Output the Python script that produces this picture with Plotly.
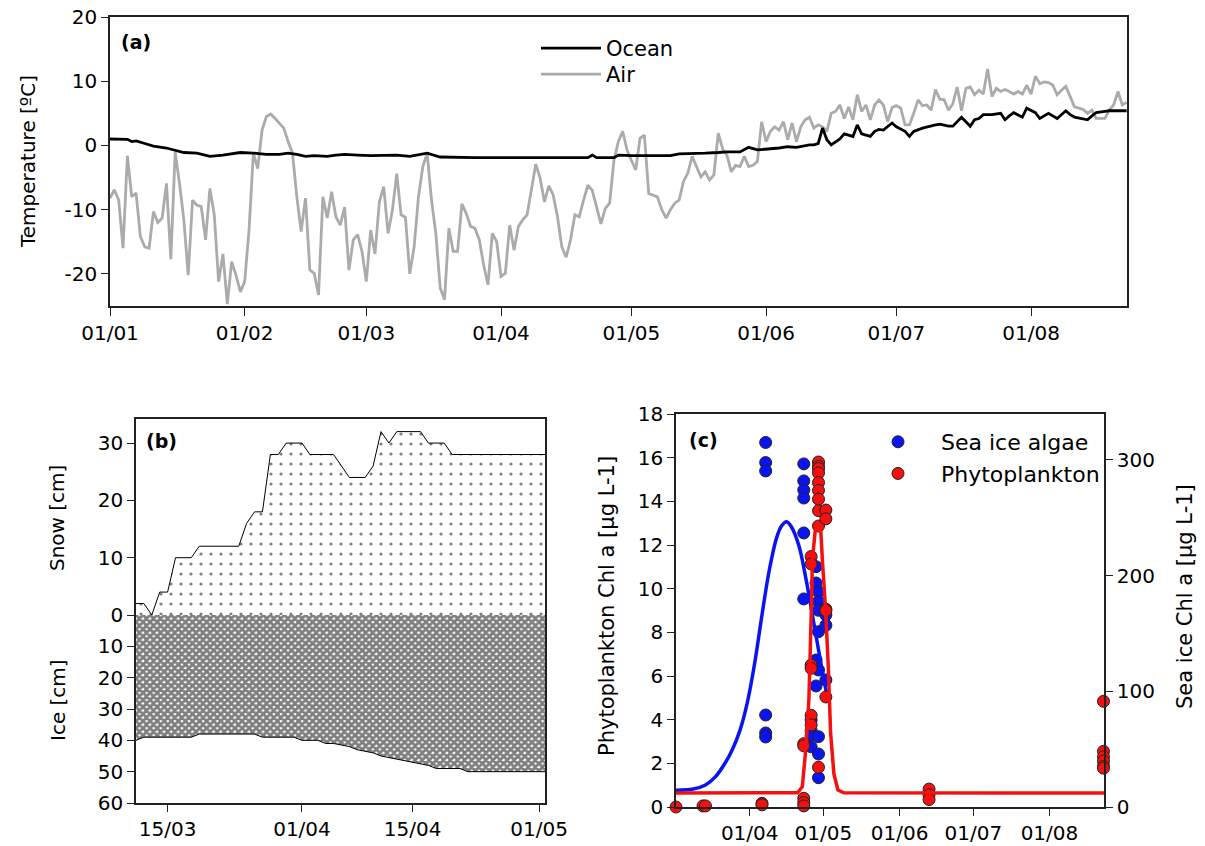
import pandas as pd
import plotly.graph_objects as go

FONT = "DejaVu Sans"
W, H = 1205, 846

# ---------------- (a) temperature ----------------
air_start = "2015-01-01"
air_temp = [
    -8.2, -6.9, -8.5, -16, -1.6, -8, -7.4, -14.2, -15.8, -16,
    -10.3, -12, -11.3, -5.9, -17.7, -1.0, -5.9, -11.6, -20.2, -8.5,
    -9.3, -9.5, -14.7, -6.7, -10.8, -21.2, -16.9, -24.7, -18.1, -20.2,
    -22.8, -21.2, -13.2, -1.2, -3.6, 2.4, 4.5, 4.9, 4.2, 3.5,
    2.7, 0.6, -1.2, -8, -13.4, -8.2, -19.4, -19.9, -23.3, -8,
    -11.3, -7.2, -11.1, -12.4, -9.6, -19.4, -14.7, -13.9, -16.5, -21.2,
    -13.2, -16.9, -8.8, -6.4, -13.7, -10.1, -4.4, -10.8, -11.2, -20,
    -15.8, -8, -3.3, -1.2, -8.5, -13.7, -22.2, -24, -12.9, -16.5,
    -16.5, -9.1, -10.6, -12.6, -12.9, -14.7, -18.6, -21.7, -13.7, -15,
    -20.4, -19.9, -12.4, -16.3, -12.6, -11.6, -10.8, -6.9, -2.9, -5.1,
    -8.8, -6.3, -7.7, -11.1, -15.8, -17.4, -14.7, -10.8, -11.1, -8.5,
    -6.2, -7.0, -9.5, -12.2, -9.8, -9.0, -2.3, 0.6, 2.2, -0.7,
    -2.3, -3.8, 1.1, 1.6, -7.5, -7.7, -8, -10, -11.3, -10,
    -9, -8.5, -5.6, -4.3, -1.7, -3.3, -4.9, -4.1, -5.4, -4.6,
    1.9, -0.5, -1.5, -4.1, -3.1, -3.3, -1.7, -3.3, -3.1, -2.5,
    3.7, 0.6, 2.2, 2.9, 2.4, 3.7, 0.9, 3.5, 0.6, 2.9,
    4.0, 4.4, 2.7, 3.2, 2.9, 2.2, 5.0, 5.3, 6.3, 4.2,
    6.0, 4.0, 7.9, 5.3, 6.3, 4.0, 6.3, 7.1, 6.3, 3.7,
    5.9, 6.2, 5.8, 3.2, 3.2, 5.0, 7.1, 6.2, 6.3, 5.5,
    8.7, 7.2, 7.1, 5.5, 6.5, 9.1, 5.4, 8.9, 9.1, 7.9,
    8.6, 8.0, 11.9, 7.6, 8.9, 8.4, 8.7, 8.4, 8.0, 8.4,
    8.0, 9.4, 8.0, 10.8, 9.6, 9.9, 9.8, 9.4, 7.9, 8.6,
    9.2, 7.6, 6.0, 5.8, 5.6, 5.0, 5.5, 4.2, 4.2, 4.2,
    5.5, 6.3, 8.4, 6.3, 6.7,
]
ocean_doy = [
    0, 2, 4, 5, 6, 8, 10, 13, 15, 17, 20, 22, 23, 26, 28, 30, 33, 36, 39, 41,
    43, 45, 47, 50, 52, 54, 57, 60, 66, 69, 73, 76, 84, 97, 110, 111, 112, 116, 117, 120,
    123, 126, 129, 131, 134, 137, 140, 142, 145, 147, 149, 151, 154, 156, 158, 161, 162, 163, 164, 165,
    166, 168, 169, 171, 172, 173, 175, 176, 177, 178, 180, 181, 183, 184, 185, 187, 188, 190, 191, 193,
    194, 196, 197, 198, 199, 200, 201, 203, 205, 206, 207, 208, 210, 211, 213, 214, 216, 217, 218, 220,
    221, 222, 224, 225, 226, 227, 229, 230, 234,
]
ocean_temp = [
    1.0, 1.0, 0.95, 0.6, 0.7, 0.3, -0.1, -0.4, -0.7, -1.1, -1.2, -1.5, -1.7, -1.5, -1.3, -1.1, -1.2, -1.4, -1.4, -1.2,
    -1.4, -1.7, -1.6, -1.7, -1.5, -1.4, -1.5, -1.6, -1.5, -1.7, -1.2, -1.8, -1.9, -1.9, -1.9, -1.5, -1.9, -1.9, -1.5, -1.6,
    -1.6, -1.7, -1.6, -1.3, -1.3, -1.2, -1.1, -1.0, -1.0, -0.3, -0.7, -0.6, -0.4, -0.2, -0.3, 0.1, 0.1, 0.3, 2.7, 0.9,
    0.1, 1.0, 1.8, 1.4, 3.2, 1.8, 1.4, 2.2, 2.5, 2.4, 3.5, 2.9, 2.2, 1.4, 2.2, 2.7, 2.9, 3.2, 3.3, 3.0,
    3.0, 4.4, 3.7, 3.0, 4.0, 4.2, 4.8, 4.8, 5.0, 4.0, 4.6, 5.1, 4.4, 5.8, 5.1, 4.2, 5.0, 4.6, 4.2, 5.4,
    4.8, 4.4, 4.2, 4.0, 4.6, 5.1, 5.3, 5.4, 5.4,
]
a_tick_dates = ["2015-01-01", "2015-02-01", "2015-03-01", "2015-04-01",
                "2015-05-01", "2015-06-01", "2015-07-01", "2015-08-01"]
a_tick_text = ["01/01", "01/02", "01/03", "01/04", "01/05", "01/06", "01/07", "01/08"]
a_ytick_vals = [-20, -10, 0, 10, 20]
a_ytick_text = ["-20", "-10", "0", "10", "20"]

# ---------------- (b) snow / ice ----------------
snow_dates = ["2015-03-11", "2015-03-12", "2015-03-13", "2015-03-14", "2015-03-15", "2015-03-16",
              "2015-03-18", "2015-03-19", "2015-03-24", "2015-03-25", "2015-03-26", "2015-03-27",
              "2015-03-28", "2015-03-29", "2015-03-30", "2015-04-01", "2015-04-02", "2015-04-05",
              "2015-04-07", "2015-04-09", "2015-04-10", "2015-04-11", "2015-04-12", "2015-04-13",
              "2015-04-16", "2015-04-17", "2015-04-19", "2015-04-20", "2015-05-02"]
snow_cm = [2, 2, 0, 4, 4, 10, 10, 12, 12, 16, 18, 18, 28, 28, 30, 30, 28, 28,
           24, 24, 26, 32, 30, 32, 32, 30, 30, 28, 28]
ice_dates = ["2015-03-11", "2015-03-12", "2015-03-18", "2015-03-19", "2015-03-26", "2015-03-27",
             "2015-03-31", "2015-04-01", "2015-04-03", "2015-04-04", "2015-04-05", "2015-04-07",
             "2015-04-08", "2015-04-10", "2015-04-11", "2015-04-13", "2015-04-15", "2015-04-17",
             "2015-04-18", "2015-04-21", "2015-04-22", "2015-05-02"]
ice_cm = [40, 39, 39, 38, 38, 39, 39, 40, 40, 41, 41, 42, 43, 44, 45, 46, 47, 48, 49, 49, 50, 50]
b_tick_dates = ["2015-03-15", "2015-04-01", "2015-04-15", "2015-05-01"]
b_tick_text = ["15/03", "01/04", "15/04", "01/05"]

# ---------------- (c) chlorophyll ----------------
algae_dates = (["2015-04-07 12:00"] * 6 + ["2015-04-23"] * 6 + ["2015-04-26"] * 4 +
               ["2015-04-28"] * 4 + ["2015-04-29"] * 8 + ["2015-05-02"] * 3)
algae_chl = [315, 297.6, 290.4, 79.5, 64, 60.5,
             296.5, 281.8, 274, 267, 236.8, 179.8,
             75.2, 66, 62.2, 52.1,
             207.7, 193.6, 127, 104.6,
             186, 177.4, 170, 151.5, 118.4, 60.8, 45.8, 25.3,
             166, 157, 109.8]
phyto_dates = (["2015-03-02", "2015-03-13", "2015-03-14"] + ["2015-04-06"] * 2 +
               ["2015-04-23"] * 5 + ["2015-04-26"] * 6 + ["2015-04-29"] * 10 +
               ["2015-05-02"] * 5 + ["2015-06-13"] * 3 + ["2015-08-23"] * 6)
phyto_chl = [0.0, 0.05, 0.05, 0.17, 0.1,
             2.9, 2.8, 0.4, 0.2, 0.05,
             11.47, 11.13, 6.5, 6.35, 4.2, 3.76,
             15.8, 15.6, 15.5, 15.3, 14.86, 14.5, 14.1, 13.57, 12.87, 1.82,
             13.6, 13.2, 9.06, 9.0, 5.04,
             0.82, 0.56, 0.34,
             4.84, 2.55, 2.3, 2.1, 1.86, 1.78]
algae_fit_dates = ["2015-03-02", "2015-03-09", "2015-03-14", "2015-03-18", "2015-03-22",
                   "2015-03-25", "2015-03-28", "2015-03-31", "2015-04-03", "2015-04-06",
                   "2015-04-09", "2015-04-12", "2015-04-14", "2015-04-16", "2015-04-18",
                   "2015-04-21", "2015-04-24", "2015-04-27", "2015-04-30", "2015-05-02 12:00"]
algae_fit = [14.4, 15.5, 19, 26, 38, 50, 66, 90, 124, 166, 205, 233, 243, 246.5, 242,
             226, 196, 160, 124, 96]
phyto_fit_dates = ["2015-03-02 00:00", "2015-04-20 12:00", "2015-04-22 10:00", "2015-04-23 19:00",
                   "2015-04-25 02:00", "2015-04-25 19:00", "2015-04-26 05:00", "2015-04-26 12:00",
                   "2015-04-27 19:00", "2015-04-28 19:00", "2015-04-29 22:00", "2015-04-30 14:00",
                   "2015-05-01 22:00", "2015-05-03 00:00", "2015-05-03 22:00", "2015-05-05 07:00",
                   "2015-05-06 22:00", "2015-05-09 07:00", "2015-08-23 05:00"]
phyto_fit = [0.64, 0.65, 0.93, 2.6, 4.9, 7.2, 9.5, 11.3, 12.8, 13.07, 12.7, 11.3, 9.0, 6.4,
             3.4, 1.5, 0.78, 0.65, 0.64]
c_tick_dates = ["2015-04-01", "2015-05-01", "2015-06-01", "2015-07-01", "2015-08-01"]
c_tick_text = ["01/04", "01/05", "01/06", "01/07", "01/08"]


def px(x):
    return x / W


def py(y):
    return 1 - y / H


air_dates = pd.date_range(air_start, periods=len(air_temp), freq="D")
ocean_dates = pd.Timestamp(air_start) + pd.to_timedelta(ocean_doy, unit="D")

fig = go.Figure()

# (a)
fig.add_trace(go.Scatter(x=air_dates, y=air_temp, mode="lines", name="Air",
                         line=dict(color="#ababab", width=2.8), xaxis="x", yaxis="y",
                         legend="legend3"))
fig.add_trace(go.Scatter(x=ocean_dates, y=ocean_temp, mode="lines", name="Ocean",
                         line=dict(color="black", width=2.8), xaxis="x", yaxis="y",
                         legend="legend"))

# (b)
fig.add_trace(go.Scatter(x=snow_dates, y=snow_cm, mode="lines", fill="tozeroy",
                         line=dict(color="black", width=1), fillcolor="white",
                         fillpattern=dict(shape=".", fgcolor="black", bgcolor="white",
                                          size=10, solidity=0.08),
                         xaxis="x2", yaxis="y2", showlegend=False, hoverinfo="skip"))
fig.add_trace(go.Scatter(x=ice_dates, y=ice_cm, mode="lines", fill="tozeroy",
                         line=dict(color="black", width=1), fillcolor="white",
                         fillpattern=dict(shape="x", fgcolor="black", bgcolor="white",
                                          size=5, solidity=0.8),
                         xaxis="x3", yaxis="y3", showlegend=False, hoverinfo="skip"))

# (c) — y4 = sea ice (right), y5 = phytoplankton (left, overlay)
fig.add_trace(go.Scatter(x=algae_dates, y=algae_chl, mode="markers", name="Sea ice algae",
                         marker=dict(color="#0a14f0", size=12, line=dict(color="#222", width=1)),
                         xaxis="x4", yaxis="y4", legend="legend2", cliponaxis=False))
fig.add_trace(go.Scatter(x=algae_fit_dates, y=algae_fit, mode="lines", line_shape="spline",
                         line=dict(color="#0a14f0", width=3.5), xaxis="x4", yaxis="y4",
                         showlegend=False))
fig.add_trace(go.Scatter(x=phyto_dates, y=phyto_chl, mode="markers", name="Phytoplankton",
                         marker=dict(color="#f51010", size=12, line=dict(color="#222", width=1)),
                         xaxis="x4", yaxis="y5", legend="legend2", cliponaxis=False))
fig.add_trace(go.Scatter(x=phyto_fit_dates, y=phyto_fit, mode="lines",
                         line=dict(color="#f51010", width=3.5), xaxis="x4", yaxis="y5",
                         showlegend=False))

tickfont = dict(family=FONT, size=20, color="black")
axcommon = dict(showgrid=False, zeroline=False, showline=True, linecolor="#222", linewidth=1.5,
                ticks="outside", ticklen=7, tickwidth=1.2, tickcolor="#222", tickfont=tickfont,
                automargin=False)
legfont = dict(family=FONT, size=21, color="black")

fig.update_layout(
    width=W, height=H, autosize=False,
    margin=dict(l=0, r=0, t=0, b=0, autoexpand=False),
    paper_bgcolor="white", plot_bgcolor="white",
    font=dict(family=FONT, size=20, color="black"),
    xaxis=dict(axcommon, domain=[px(110), px(1127)], anchor="y", type="date",
               range=["2015-01-01", "2015-08-23 02:00"], mirror=True,
               tickvals=a_tick_dates, ticktext=a_tick_text, ticklen=8),
    yaxis=dict(axcommon, domain=[py(306), py(17)], anchor="x", range=[-25, 20],
               tickvals=a_ytick_vals, ticktext=a_ytick_text, mirror=True),
    xaxis2=dict(axcommon, domain=[px(136), px(545)], anchor="y2", type="date",
                range=["2015-03-11", "2015-05-01 18:00"], matches="x3",
                showticklabels=False, ticks="", mirror=True, linewidth=1.8),
    yaxis2=dict(axcommon, domain=[py(615), py(419)], anchor="x2", range=[0, 34.2],
                tickvals=[0, 10, 20, 30], mirror=True),
    xaxis3=dict(axcommon, domain=[px(136), px(545)], anchor="y3", type="date",
                range=["2015-03-11", "2015-05-01 18:00"],
                tickvals=b_tick_dates, ticktext=b_tick_text, mirror=False),
    yaxis3=dict(axcommon, domain=[py(803), py(615)], anchor="x3", range=[60, 0],
                tickvals=[10, 20, 30, 40, 50, 60], mirror=True),
    xaxis4=dict(axcommon, domain=[px(676), px(1104)], anchor="y4", type="date",
                range=["2015-03-02 00:00", "2015-08-23 05:00"], mirror=True,
                tickvals=c_tick_dates, ticktext=c_tick_text),
    yaxis4=dict(axcommon, domain=[py(807), py(414)], anchor="x4", side="right",
                range=[0, 339.6], tickvals=[0, 100, 200, 300]),
    yaxis5=dict(axcommon, anchor="x4", overlaying="y4", side="left",
                range=[0, 18], tickvals=list(range(0, 19, 2))),
    legend=dict(x=px(536), y=py(28), xanchor="left", yanchor="top", font=legfont,
                bgcolor="rgba(0,0,0,0)", itemwidth=60, tracegroupgap=0),
    legend3=dict(x=px(536), y=py(54), xanchor="left", yanchor="top", font=legfont,
                 bgcolor="rgba(0,0,0,0)", itemwidth=60, tracegroupgap=0),
    legend2=dict(x=px(855), y=py(421), xanchor="left", yanchor="top",
                 font=dict(family=FONT, size=22, color="black"),
                 bgcolor="rgba(0,0,0,0)", itemwidth=76, tracegroupgap=0),
)

ann = [
    dict(text="<b>(a)</b>", x=px(136), y=py(42)),
    dict(text="<b>(b)</b>", x=px(161), y=py(441)),
    dict(text="<b>(c)</b>", x=px(703), y=py(440)),
    dict(text="Temperature [ºC]", x=px(28), y=py(162), textangle=-90, size=20),
    dict(text="Snow [cm]", x=px(57), y=py(518), textangle=-90, size=20),
    dict(text="Ice [cm]", x=px(58), y=py(700), textangle=-90, size=20),
    dict(text="Phytoplankton Chl a [µg L-1]", x=px(607), y=py(606), textangle=-90, size=21),
    dict(text="Sea ice Chl a [µg L-1]", x=px(1185), y=py(597), textangle=-90, size=21),
]
for a in ann:
    size = a.pop("size", 19)
    fig.add_annotation(xref="paper", yref="paper", showarrow=False, xanchor="center",
                       yanchor="middle", font=dict(family=FONT, size=size, color="black"), **a)

fig.write_html("out.html", config={"displayModeBar": False},
               post_script="document.body.style.margin='0';")
